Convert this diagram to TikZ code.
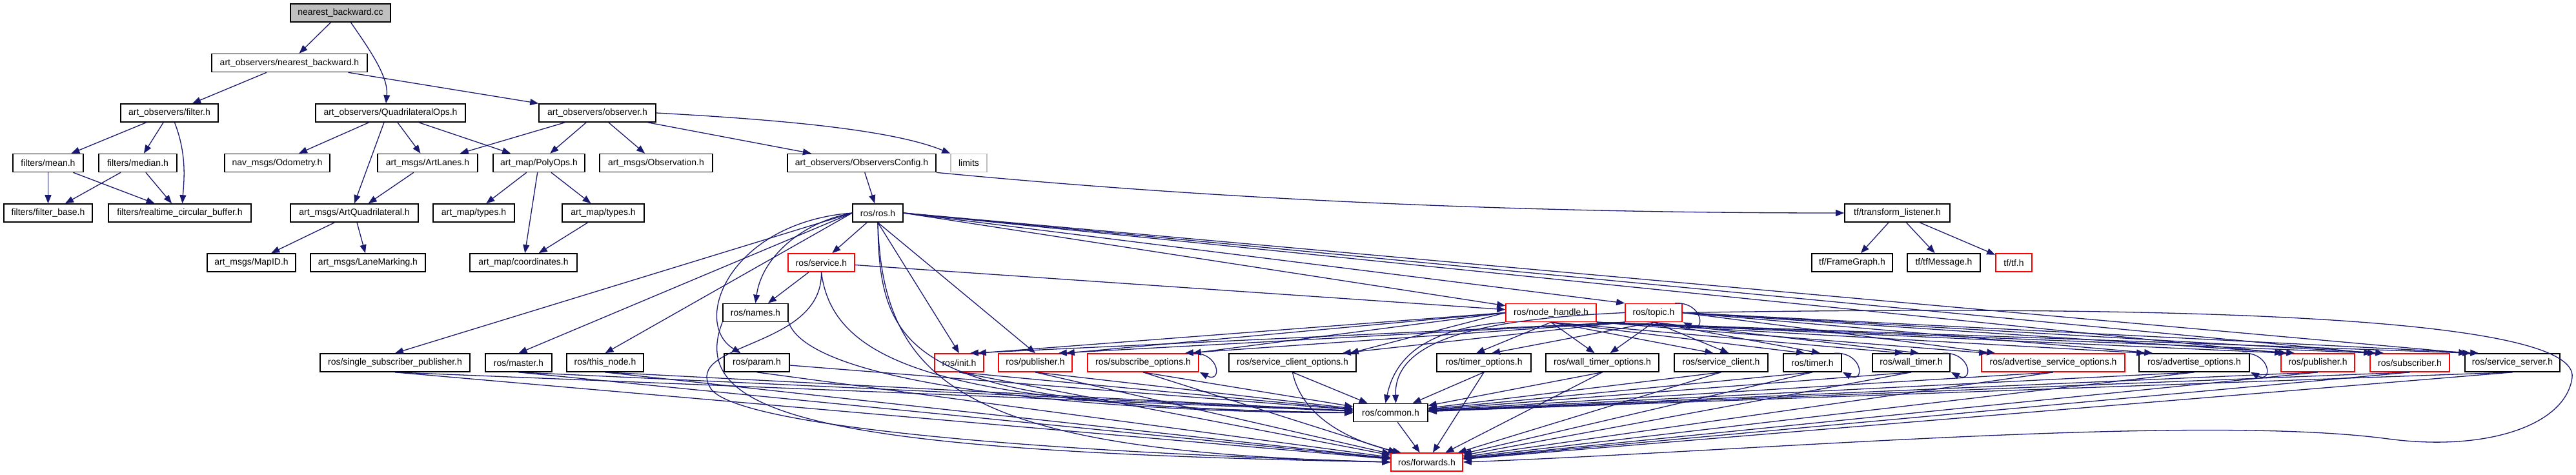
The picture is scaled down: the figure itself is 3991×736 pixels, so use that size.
\documentclass[tikz,border=0pt]{standalone}
\usepackage{fontspec}
\setmainfont{Liberation Sans}
\usetikzlibrary{arrows.meta}
\definecolor{edgeblue}{RGB}{25,25,112}
\definecolor{missred}{RGB}{255,0,0}
\definecolor{rootgrey}{RGB}{191,191,191}

\begin{document}
\begin{tikzpicture}[x=1pt,y=-1pt,font=\fontsize{14}{16}\selectfont,
 hdr/.style={draw=black,line width=1.6pt,fill=white,minimum height=28,inner xsep=1pt,inner ysep=0pt},
 miss/.style={hdr,draw=missred},
 dep/.style={-{Triangle[length=13pt,width=10pt]},line width=1.3pt,draw=edgeblue}]
\useasboundingbox (0,0) rectangle (3991,736);
% art_observers side
\node[hdr,fill=rootgrey,minimum width=155] (cc) at (527.5,20) {nearest\_backward.cc};
\node[hdr,minimum width=241] (nbh) at (448.5,97.5) {art\_observers/nearest\_backward.h};
\node[hdr,minimum width=151] (filter) at (262.5,175) {art\_observers/filter.h};
\node[hdr,minimum width=232] (quadops) at (605,175) {art\_observers/QuadrilateralOps.h};
\node[hdr,minimum width=181] (observer) at (925.5,175) {art\_observers/observer.h};
\node[hdr,minimum width=109] (mean) at (74.5,252.5) {filters/mean.h};
\node[hdr,minimum width=121] (median) at (213.5,252.5) {filters/median.h};
\node[hdr,minimum width=163] (odom) at (429.5,252.5) {nav\_msgs/Odometry.h};
\node[hdr,minimum width=155] (artlanes) at (662.5,252.5) {art\_msgs/ArtLanes.h};
\node[hdr,minimum width=142] (polyops) at (835,252.5) {art\_map/PolyOps.h};
\node[hdr,minimum width=175] (observation) at (1016.5,252.5) {art\_msgs/Observation.h};
\node[hdr,minimum width=230] (obscfg) at (1335,252.5) {art\_observers/ObserversConfig.h};
\node[hdr,draw=rootgrey,minimum width=56] (limits) at (1501,252.5) {limits};
\node[hdr,minimum width=137] (filterbase) at (74.5,330) {filters/filter\_base.h};
\node[hdr,minimum width=221] (rtbuf) at (278.5,330) {filters/realtime\_circular\_buffer.h};
\node[hdr,minimum width=198] (artquad) at (549,330) {art\_msgs/ArtQuadrilateral.h};
\node[hdr,minimum width=126] (typesa) at (734,330) {art\_map/types.h};
\node[hdr,minimum width=127] (typesb) at (934.5,330) {art\_map/types.h};
\node[hdr,minimum width=137] (mapid) at (389.5,407) {art\_msgs/MapID.h};
\node[hdr,minimum width=178] (lanemark) at (570,407) {art\_msgs/LaneMarking.h};
\node[hdr,minimum width=166] (coords) at (811,407) {art\_map/coordinates.h};
% ros and tf side
\node[hdr,minimum width=78] (ros) at (1360,330) {ros/ros.h};
\node[hdr,minimum width=163] (tflisten) at (2939.5,330) {tf/transform\_listener.h};
\node[miss,minimum width=103] (service) at (1272.5,407) {ros/service.h};
\node[hdr,minimum width=125] (framegraph) at (2869.5,407) {tf/FrameGraph.h};
\node[hdr,minimum width=113] (tfmsg) at (3011.5,407) {tf/tfMessage.h};
\node[miss,minimum width=56] (tftf) at (3120,407) {tf/tf.h};
\node[hdr,minimum width=101] (names) at (1170.5,484.5) {ros/names.h};
\node[miss,minimum width=140] (nodehandle) at (2403,484.5) {ros/node\_handle.h};
\node[miss,minimum width=88] (topic) at (2562,484.5) {ros/topic.h};
\node[hdr,minimum width=232] (ssp) at (612,562) {ros/single\_subscriber\_publisher.h};
\node[hdr,minimum width=103] (master) at (803.5,562) {ros/master.h};
\node[hdr,minimum width=119] (thisnode) at (937.5,562) {ros/this\_node.h};
\node[hdr,minimum width=101] (param) at (1172.5,562) {ros/param.h};
\node[miss,minimum width=76] (init) at (1486,562) {ros/init.h};
\node[miss,minimum width=114] (puba) at (1604,562) {ros/publisher.h};
\node[miss,minimum width=172] (subopts) at (1771,562) {ros/subscribe\_options.h};
\node[hdr,minimum width=197] (scopts) at (2002.5,562) {ros/service\_client\_options.h};
\node[hdr,minimum width=146] (timeropts) at (2299,562) {ros/timer\_options.h};
\node[hdr,minimum width=175] (wtopts) at (2482.5,562) {ros/wall\_timer\_options.h};
\node[hdr,minimum width=145] (sclient) at (2666.5,562) {ros/service\_client.h};
\node[hdr,minimum width=90] (timer) at (2808,562) {ros/timer.h};
\node[hdr,minimum width=120] (wtimer) at (2961,562) {ros/wall\_timer.h};
\node[miss,minimum width=222] (asopts) at (3181,562) {ros/advertise\_service\_options.h};
\node[hdr,minimum width=171] (aopts) at (3399.5,562) {ros/advertise\_options.h};
\node[miss,minimum width=114] (pubb) at (3591,562) {ros/publisher.h};
\node[miss,minimum width=123] (subscriber) at (3733.5,562) {ros/subscriber.h};
\node[hdr,minimum width=147] (ssrv) at (3892.5,562) {ros/service\_server.h};
\node[hdr,minimum width=115] (common) at (2154.5,639.5) {ros/common.h};
\node[miss,minimum width=111] (forwards) at (2210.5,716) {ros/forwards.h};
% upper includes
\draw[dep] (cc)--(nbh);
\draw[dep] ([xshift=16]cc.south) .. controls (575,80) and (602,120) .. ([xshift=-7]quadops.north);
\draw[dep] (nbh)--(filter);\draw[dep] (nbh)--(observer);
\foreach \t in {mean,median} \draw[dep] (filter)--(\t);
\draw[dep] ([xshift=8]filter.south) .. controls (290,240) and (285,280) .. ([xshift=4]rtbuf.north);
\foreach \s in {mean,median} {\draw[dep] (\s)--(filterbase);\draw[dep] (\s)--(rtbuf);}
\foreach \t in {odom,artlanes,polyops} \draw[dep] (quadops)--(\t);
\draw[dep] ([xshift=-10]quadops.south)--(artquad.north);
\foreach \t in {artlanes,polyops,observation,obscfg} \draw[dep] (observer)--(\t);
\draw[dep] (observer.east) .. controls (1200,185) and (1380,200) .. (limits.north west);
\draw[dep] (artlanes)--(artquad);
\foreach \t in {typesa,typesb,coords} \draw[dep] (polyops)--(\t);
\draw[dep] (typesb)--(coords);
\foreach \t in {mapid,lanemark} \draw[dep] (artquad)--(\t);
\draw[dep] (obscfg)--(ros);
\draw[dep] (obscfg.south east) .. controls (2000,320) and (2500,330) .. (tflisten.west);
\foreach \t in {framegraph,tfmsg,tftf} \draw[dep] (tflisten)--(\t);
% ros/ros.h
\draw[dep] (ros)--(service);
\draw[dep] (ros.west) .. controls (1240,345) and (1180,400) .. (names.north);
\draw[dep] (ros.west) .. controls (1130,345) and (1070,500) .. ([xshift=-25]param.north);
\foreach \t in {ssp,master,thisnode} \draw[dep] (ros.west)--(\t.north);
\foreach \t in {init,puba} \draw[dep] (ros.south)--(\t.north);
\draw[dep] (ros.east)--(nodehandle);
\draw[dep] (ros.east)--(topic.north west);
\foreach \t in {pubb,subscriber,ssrv} \draw[dep] (ros.east)--([xshift=4]\t.north west);
\draw[dep] (ros.south) .. controls (1362,560) and (1420,630) .. (common.west);
\draw[dep] (ros.south) .. controls (1368,600) and (1500,700) .. (forwards.west);
% service.h and names.h
\draw[dep] (service)--(names);
\draw[dep] (service)--(nodehandle);
\draw[dep] (service.south) .. controls (1290,560) and (1450,630) .. (common.west);
\draw[dep] (service.south) .. controls (1275,540) and (1060,530) .. (1100,600) .. controls (1130,660) and (1600,700) .. (forwards.west);
\draw[dep] (names.south east) .. controls (1260,610) and (1800,640) .. (common.west);
\draw[dep] (names.south west) .. controls (1060,650) and (1300,700) .. (forwards.west);
\draw[dep] (param)--(common);\draw[dep] (param.south)--(forwards);
% node_handle.h and topic.h
\foreach \t in {init,puba,subopts,scopts} {
  \draw[dep] (nodehandle.west)--([xshift=-10]\t.north east);
  \draw[dep] (topic.south west)--([xshift=-22]\t.north east);}
\foreach \t in {timeropts,wtopts,sclient,timer,wtimer} {
  \draw[dep] (nodehandle.south)--([xshift=-12]\t.north);
  \draw[dep] (topic.south)--([xshift=12]\t.north);}
\foreach \t in {asopts,aopts,pubb,subscriber,ssrv} {
  \draw[dep] (nodehandle.south east)--([xshift=10]\t.north west);
  \draw[dep] (topic.east)--([xshift=22]\t.north west);}
\draw[dep] (nodehandle.south west) .. controls (2200,510) and (2160,560) .. ([xshift=-8]common.north);
\draw[dep] (topic.west) .. controls (2280,495) and (2160,530) .. ([xshift=8]common.north);
\draw[dep] (topic.east) .. controls (3500,470) and (3995,500) .. (3985,585) .. controls (3975,660) and (3850,700) .. (3700,680) .. controls (3400,640) and (2700,700) .. (forwards.east);
% self includes
\foreach \n in {topic,subopts,timer,wtimer,aopts}
  \draw[dep] ([xshift=-12]\n.north east) .. controls +(45,-2) and +(35,18) .. ([xshift=1]\n.south east);
% down to common.h and forwards.h
\foreach \s in {ssp,master,thisnode,init,puba,subopts,timeropts,wtopts,sclient,timer,wtimer,asopts,aopts,pubb,subscriber,ssrv}
  {\draw[dep] (\s.south)--(common);\draw[dep] (\s.south)--(forwards);}
\draw[dep] (scopts.south)--(common);
\draw[dep] (scopts.south) .. controls (2020,660) and (2120,690) .. ([xshift=-40]forwards.north);
\draw[dep] (common)--(forwards);
\end{tikzpicture}
\end{document}
